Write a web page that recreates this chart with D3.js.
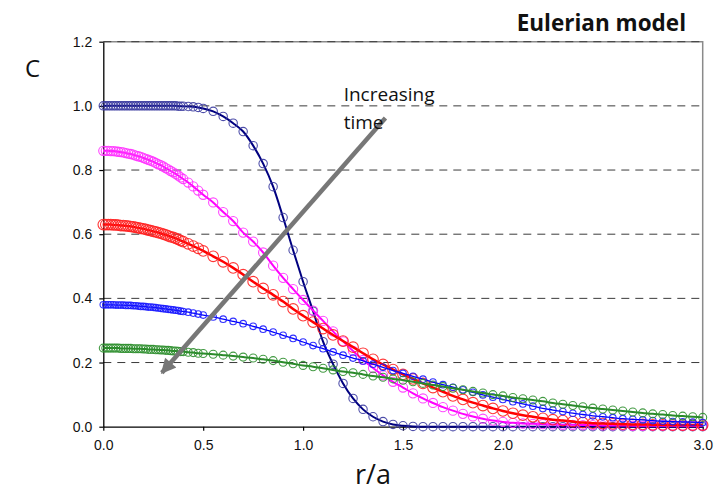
<!DOCTYPE html>
<html>
<head>
<meta charset="utf-8">
<script src="https://cdn.jsdelivr.net/npm/d3@7"></script>
<style>
  body { margin: 0; background: #fff; }
  #chart { width: 720px; height: 492px; }
</style>
</head>
<body>
<div id="chart"></div>
<script>
// radial position r/a (fine mesh near the centre, coarser further out)
const rPoints = [
    0, 0.0125, 0.025, 0.0375, 0.05, 0.0625, 0.075, 0.0875, 0.1, 0.1125, 0.125, 0.1375, 0.15, 0.1625, 0.175, 0.1875,
    0.2, 0.2125, 0.225, 0.2375, 0.25, 0.2625, 0.275, 0.2875, 0.3, 0.3125, 0.325, 0.3375, 0.35, 0.3625, 0.375, 0.3875, 0.4,
    0.425, 0.45, 0.475, 0.5,
    0.55, 0.6, 0.65, 0.7, 0.75, 0.8, 0.85, 0.9, 0.95, 1.0,
    1.05, 1.1, 1.15, 1.2, 1.25, 1.3, 1.35, 1.4, 1.45, 1.5,
    1.55, 1.6, 1.65, 1.7, 1.75, 1.8, 1.85, 1.9, 1.95, 2.0,
    2.05, 2.1, 2.15, 2.2, 2.25, 2.3, 2.35, 2.4, 2.45, 2.5,
    2.55, 2.6, 2.65, 2.7, 2.75, 2.8, 2.85, 2.9, 2.95, 3.0
];

// concentration C at five successive times
const cTime1 = [
    1.000, 1.000, 1.000, 1.000, 1.000, 1.000, 1.000, 1.000, 1.000, 1.000, 1.000, 1.000, 1.000, 1.000, 1.000, 1.000,
    1.000, 1.000, 1.000, 1.000, 1.000, 1.000, 1.000, 1.000, 1.000, 1.000, 1.000, 1.000, 1.000, 1.000, 0.999, 0.999, 0.999,
    0.998, 0.997, 0.995, 0.992,
    0.983, 0.967, 0.946, 0.920, 0.876, 0.820, 0.748, 0.652, 0.550, 0.452,
    0.360, 0.265, 0.195, 0.135, 0.088, 0.054, 0.031, 0.016, 0.007, 0.003,
    0.001, 0, 0, 0, 0, 0, 0, 0, 0, 0,
    0, 0, 0, 0, 0, 0, 0, 0, 0, 0,
    0, 0, 0, 0, 0, 0, 0, 0, 0, 0
];
const cTime2 = [
    0.860, 0.860, 0.860, 0.859, 0.859, 0.858, 0.857, 0.856, 0.855, 0.853, 0.851, 0.850, 0.848, 0.845, 0.843, 0.841,
    0.838, 0.835, 0.832, 0.829, 0.826, 0.822, 0.818, 0.815, 0.811, 0.806, 0.802, 0.797, 0.793, 0.788, 0.783, 0.777, 0.772,
    0.761, 0.749, 0.736, 0.723,
    0.699, 0.669, 0.641, 0.605, 0.577, 0.543, 0.502, 0.464, 0.429, 0.395,
    0.362, 0.330, 0.297, 0.266, 0.236, 0.208, 0.183, 0.160, 0.140, 0.122,
    0.104, 0.088, 0.074, 0.061, 0.050, 0.040, 0.032, 0.025, 0.019, 0.015,
    0.012, 0.010, 0.009, 0.008, 0.007, 0.006, 0.006, 0.005, 0.005, 0.004,
    0.004, 0.004, 0.003, 0.003, 0.003, 0.003, 0.003, 0.003, 0.003, 0.003
];
const cTime3 = [
    0.630, 0.630, 0.630, 0.630, 0.629, 0.629, 0.628, 0.627, 0.627, 0.626, 0.625, 0.624, 0.623, 0.621, 0.620, 0.618,
    0.617, 0.615, 0.613, 0.611, 0.609, 0.607, 0.605, 0.603, 0.600, 0.598, 0.595, 0.592, 0.590, 0.587, 0.584, 0.580, 0.577,
    0.570, 0.563, 0.556, 0.548,
    0.531, 0.514, 0.495, 0.474, 0.452, 0.431, 0.411, 0.390, 0.367, 0.346,
    0.326, 0.306, 0.286, 0.267, 0.248, 0.229, 0.210, 0.194, 0.178, 0.163,
    0.149, 0.135, 0.122, 0.109, 0.096, 0.085, 0.075, 0.066, 0.057, 0.049,
    0.042, 0.036, 0.031, 0.026, 0.022, 0.019, 0.016, 0.013, 0.011, 0.010,
    0.009, 0.008, 0.007, 0.007, 0.006, 0.006, 0.005, 0.005, 0.005, 0.005
];
const cTime4 = [
    0.380, 0.380, 0.380, 0.380, 0.380, 0.379, 0.379, 0.379, 0.379, 0.378, 0.378, 0.378, 0.377, 0.377, 0.376, 0.375,
    0.375, 0.374, 0.373, 0.373, 0.372, 0.371, 0.370, 0.369, 0.368, 0.367, 0.366, 0.365, 0.364, 0.363, 0.362, 0.360, 0.359,
    0.357, 0.354, 0.351, 0.348,
    0.342, 0.335, 0.328, 0.321, 0.313, 0.304, 0.295, 0.285, 0.275, 0.264,
    0.253, 0.243, 0.233, 0.223, 0.214, 0.205, 0.195, 0.185, 0.175, 0.166,
    0.157, 0.148, 0.139, 0.131, 0.123, 0.115, 0.107, 0.099, 0.092, 0.085,
    0.078, 0.071, 0.064, 0.057, 0.052, 0.047, 0.042, 0.038, 0.034, 0.031,
    0.028, 0.025, 0.023, 0.021, 0.019, 0.017, 0.016, 0.015, 0.014, 0.013
];
const cTime5 = [
    0.245, 0.245, 0.245, 0.245, 0.245, 0.245, 0.245, 0.244, 0.244, 0.244, 0.244, 0.244, 0.243, 0.243, 0.243, 0.243,
    0.242, 0.242, 0.241, 0.241, 0.241, 0.240, 0.240, 0.239, 0.239, 0.238, 0.238, 0.237, 0.236, 0.236, 0.235, 0.234, 0.234,
    0.232, 0.231, 0.229, 0.228,
    0.226, 0.223, 0.220, 0.217, 0.214, 0.210, 0.206, 0.201, 0.196, 0.191,
    0.187, 0.182, 0.177, 0.172, 0.168, 0.163, 0.158, 0.154, 0.149, 0.145,
    0.140, 0.135, 0.130, 0.125, 0.120, 0.115, 0.110, 0.105, 0.100, 0.096,
    0.091, 0.087, 0.083, 0.079, 0.074, 0.070, 0.066, 0.062, 0.058, 0.055,
    0.052, 0.049, 0.046, 0.043, 0.040, 0.038, 0.035, 0.033, 0.031, 0.029
];

const xTicks = [0, 0.5, 1.0, 1.5, 2.0, 2.5, 3.0];
const yTicks = [0, 0.2, 0.4, 0.6, 0.8, 1.0, 1.2];

class ConcentrationChart {
    constructor(containerId) {
        this.containerId = containerId;
        this.totalWidth = 720;
        this.totalHeight = 492;
        this.margin = { top: 41.7, right: 17.3, bottom: 65.3, left: 103.3 };
        this.width = this.totalWidth - this.margin.left - this.margin.right;
        this.height = this.totalHeight - this.margin.top - this.margin.bottom;

        // one entry per time step, drawn in this order
        this.series = [
            { values: cTime1, line: '#000080', marker: '#3b3ba0', lineWidth: 2, r: 4.2 },
            { values: cTime2, line: '#ff00ff', marker: '#ff33ff', lineWidth: 2, r: 4.6 },
            { values: cTime3, line: '#ff0000', marker: '#ff2020', lineWidth: 2.5, r: 5.3 },
            { values: cTime4, line: '#0000ff', marker: '#1a1aff', lineWidth: 1.3, r: 3.3 },
            { values: cTime5, line: '#2a8a2a', marker: '#2f8f2f', lineWidth: 2, r: 4 }
        ];
    }

    init() {
        const container = d3.select(`#${this.containerId}`);
        container.selectAll('*').remove();

        this.root = container.append('svg')
            .attr('width', this.totalWidth)
            .attr('height', this.totalHeight)
            .style('background', '#fff');

        this.svg = this.root.append('g')
            .attr('transform', `translate(${this.margin.left},${this.margin.top})`);
    }

    render() {
        const x = d3.scaleLinear().domain([0, 3]).range([0, this.width]);
        const y = d3.scaleLinear().domain([0, 1.2]).range([this.height, 0]);
        const tickFont = '"Liberation Sans", Arial, sans-serif';
        const labelFont = '"Open Sans", "Noto Sans", sans-serif';

        // plot frame (top + right)
        this.svg.append('path')
            .attr('d', `M0,0H${this.width}V${this.height}`)
            .attr('fill', 'none')
            .attr('stroke', '#8a8a8a')
            .attr('stroke-width', 1.5);

        // dashed horizontal gridlines
        this.svg.append('g')
            .selectAll('line')
            .data(yTicks.filter(d => d > 0))
            .enter()
            .append('line')
            .attr('x1', 0)
            .attr('x2', this.width)
            .attr('y1', d => y(d))
            .attr('y2', d => y(d))
            .attr('stroke', '#3a3a3a')
            .attr('stroke-width', 1)
            .attr('stroke-dasharray', '8,6');

        // axes
        const xAxis = this.svg.append('g')
            .attr('transform', `translate(0,${this.height})`)
            .call(d3.axisBottom(x).tickValues(xTicks).tickFormat(d3.format('.1f')).tickSize(4).tickSizeOuter(0).tickPadding(9));
        const yAxis = this.svg.append('g')
            .call(d3.axisLeft(y).tickValues(yTicks).tickFormat(d3.format('.1f')).tickSize(4).tickSizeOuter(0).tickPadding(7));

        [xAxis, yAxis].forEach(ax => {
            ax.select('.domain').attr('stroke', '#000').attr('stroke-width', 1.3);
            ax.selectAll('.tick line').attr('stroke', '#000').attr('stroke-width', 1.2);
            ax.selectAll('.tick text')
                .style('font-family', tickFont)
                .style('font-size', '14px')
                .style('fill', '#111');
        });

        // curves + open circle markers
        const line = d3.line()
            .x(d => x(d.r))
            .y(d => y(d.c))
            .curve(d3.curveMonotoneX);

        this.series.forEach(s => {
            const pts = rPoints.map((r, i) => ({ r: r, c: s.values[i] }));
            const g = this.svg.append('g');

            g.append('path')
                .datum(pts)
                .attr('d', line)
                .attr('fill', 'none')
                .attr('stroke', s.line)
                .attr('stroke-width', s.lineWidth);

            g.selectAll('circle')
                .data(pts)
                .enter()
                .append('circle')
                .attr('cx', d => x(d.r))
                .attr('cy', d => y(d.c))
                .attr('r', s.r)
                .attr('fill', 'none')
                .attr('stroke', s.marker)
                .attr('stroke-width', 1.1)
                .attr('stroke-opacity', 0.9);
        });

        // "Increasing time" arrow
        this.root.append('defs')
            .append('marker')
            .attr('id', 'arrowHead')
            .attr('viewBox', '0 0 10 10')
            .attr('refX', 9)
            .attr('refY', 5)
            .attr('markerUnits', 'userSpaceOnUse')
            .attr('markerWidth', 17)
            .attr('markerHeight', 15)
            .attr('orient', 'auto')
            .append('path')
            .attr('d', 'M0,0L10,5L0,10z')
            .attr('fill', '#777');

        this.svg.append('line')
            .attr('x1', x(1.412))
            .attr('y1', y(0.962))
            .attr('x2', x(0.293))
            .attr('y2', y(0.168))
            .attr('stroke', '#777')
            .attr('stroke-width', 4.5)
            .attr('marker-end', 'url(#arrowHead)');

        const note = this.svg.append('text')
            .attr('x', x(1.203))
            .attr('y', y(1.016))
            .style('font-family', labelFont)
            .style('font-size', '19px')
            .style('fill', '#111');
        note.append('tspan').text('Increasing');
        note.append('tspan').attr('x', x(1.203)).attr('dy', 28).text('time');

        // axis titles and chart title
        this.root.append('text')
            .attr('x', 25)
            .attr('y', 77)
            .style('font-family', labelFont)
            .style('font-size', '24px')
            .style('fill', '#111')
            .text('C');

        this.root.append('text')
            .attr('x', 355)
            .attr('y', 484)
            .style('font-family', labelFont)
            .style('font-size', '27px')
            .style('fill', '#111')
            .text('r/a');

        this.root.append('text')
            .attr('x', 686)
            .attr('y', 31)
            .attr('text-anchor', 'end')
            .style('font-family', labelFont)
            .style('font-size', '22.5px')
            .style('font-weight', '700')
            .style('fill', '#111')
            .text('Eulerian model');
    }
}

const chart = new ConcentrationChart('chart');
chart.init();
chart.render();
</script>
</body>
</html>
